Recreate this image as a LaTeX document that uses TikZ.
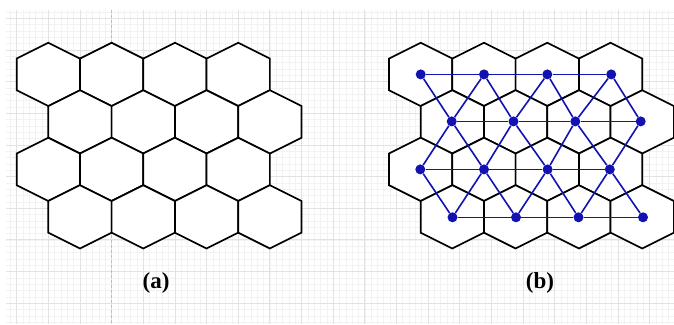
\documentclass[tikz,border=0pt]{standalone}
\usepackage{fontspec}
\setmainfont{Liberation Serif}
\definecolor{gridmajor}{HTML}{E2E2E2}
\definecolor{gridminor}{HTML}{F2F2F2}
\definecolor{dashgray}{HTML}{BDBDBD}
\definecolor{netblue}{HTML}{1212B0}
\tikzset{
  minorline/.style={draw=gridminor, line width=0.6pt},
  majorline/.style={draw=gridmajor, line width=0.8pt},
  hexcell/.style={draw=black, fill=white, line width=1.7pt, line join=miter},
  netedge/.style={draw=netblue, line width=1.6pt},
  netdot/.style={circle, fill=netblue, inner sep=0pt, minimum size=10pt},
  panellabel/.style={font=\fontsize{23}{25}\selectfont\bfseries, inner sep=0pt}
}
\begin{document}
\begin{tikzpicture}[x=1pt,y=-1pt]
\useasboundingbox (0,0) rectangle (674,324);
\fill[white] (0,0) rectangle (674,324);
% graph paper
\begin{scope}
\clip (6,10) rectangle (674,324);
\foreach \j in {-1,...,106} {\draw[minorline] ({16.65+6.33*\j},10) -- ({16.65+6.33*\j},324);}
\foreach \j in {-2,...,49} {\draw[minorline] (6,{18.3+6.33*\j}) -- (674,{18.3+6.33*\j});}
\foreach \k in {0,...,21} {\draw[majorline] ({16.65+31.65*\k},10) -- ({16.65+31.65*\k},324);}
\foreach \k in {0,...,9} {\draw[majorline] (6,{18.3+31.65*\k}) -- (674,{18.3+31.65*\k});}
\end{scope}
\draw[dashgray, line width=0.8pt, dash pattern=on 3pt off 2pt] (111.6,10) -- (111.6,324);
% hexagon tilings
\foreach \ox in {0,372.35} {
  \foreach \r in {0,1,2,3} {
    \foreach \c in {0,1,2,3} {
      \pgfmathsetmacro\cx{48.3+\ox+63.3*\c+31.65*mod(\r,2)}
      \pgfmathsetmacro\cy{74.4+47.475*\r}
      \draw[hexcell] (\cx,\cy-31.65) -- ++(31.65,15.825) -- ++(0,31.65) -- ++(-31.65,15.825)
        -- ++(-31.65,-15.825) -- ++(0,-31.65) -- cycle;
    }
  }
}
% network nodes
\node[netdot] (A1) at (420.7,74.4) {};
\node[netdot] (A2) at (484.0,74.4) {};
\node[netdot] (A3) at (547.3,74.4) {};
\node[netdot] (A4) at (611.2,74.4) {};
\node[netdot] (B1) at (451.7,121.4) {};
\node[netdot] (B2) at (513.5,121.4) {};
\node[netdot] (B3) at (575.3,121.4) {};
\node[netdot] (B4) at (640.7,121.4) {};
\node[netdot] (C1) at (420.3,169.4) {};
\node[netdot] (C2) at (484.0,169.4) {};
\node[netdot] (C3) at (547.6,169.4) {};
\node[netdot] (C4) at (609.8,169.4) {};
\node[netdot] (D1) at (452.5,217.3) {};
\node[netdot] (D2) at (516.0,217.3) {};
\node[netdot] (D3) at (578.5,217.3) {};
\node[netdot] (D4) at (643.0,217.3) {};
% network edges
\draw[netedge] (A1) -- (A2) -- (A3) -- (A4);
\draw[netedge] (B1) -- (B2) -- (B3) -- (B4);
\draw[netedge] (C1) -- (C2) -- (C3) -- (C4);
\draw[netedge] (D1) -- (D2) -- (D3) -- (D4);
\draw[netedge] (A1) -- (B1) -- (C2) -- (D2);
\draw[netedge] (A2) -- (B1) -- (C1) -- (D1);
\draw[netedge] (A2) -- (B2) -- (C3) -- (D3);
\draw[netedge] (A3) -- (B2) -- (C2) -- (D1);
\draw[netedge] (A3) -- (B3) -- (C4) -- (D4);
\draw[netedge] (A4) -- (B3) -- (C3) -- (D2);
\draw[netedge] (A4) -- (B4) -- (C4) -- (D3);
% labels
\node[panellabel] (la) at (156,283) {(a)};
\node[panellabel] (lb) at (540,283) {(b)};
\end{tikzpicture}
\end{document}
